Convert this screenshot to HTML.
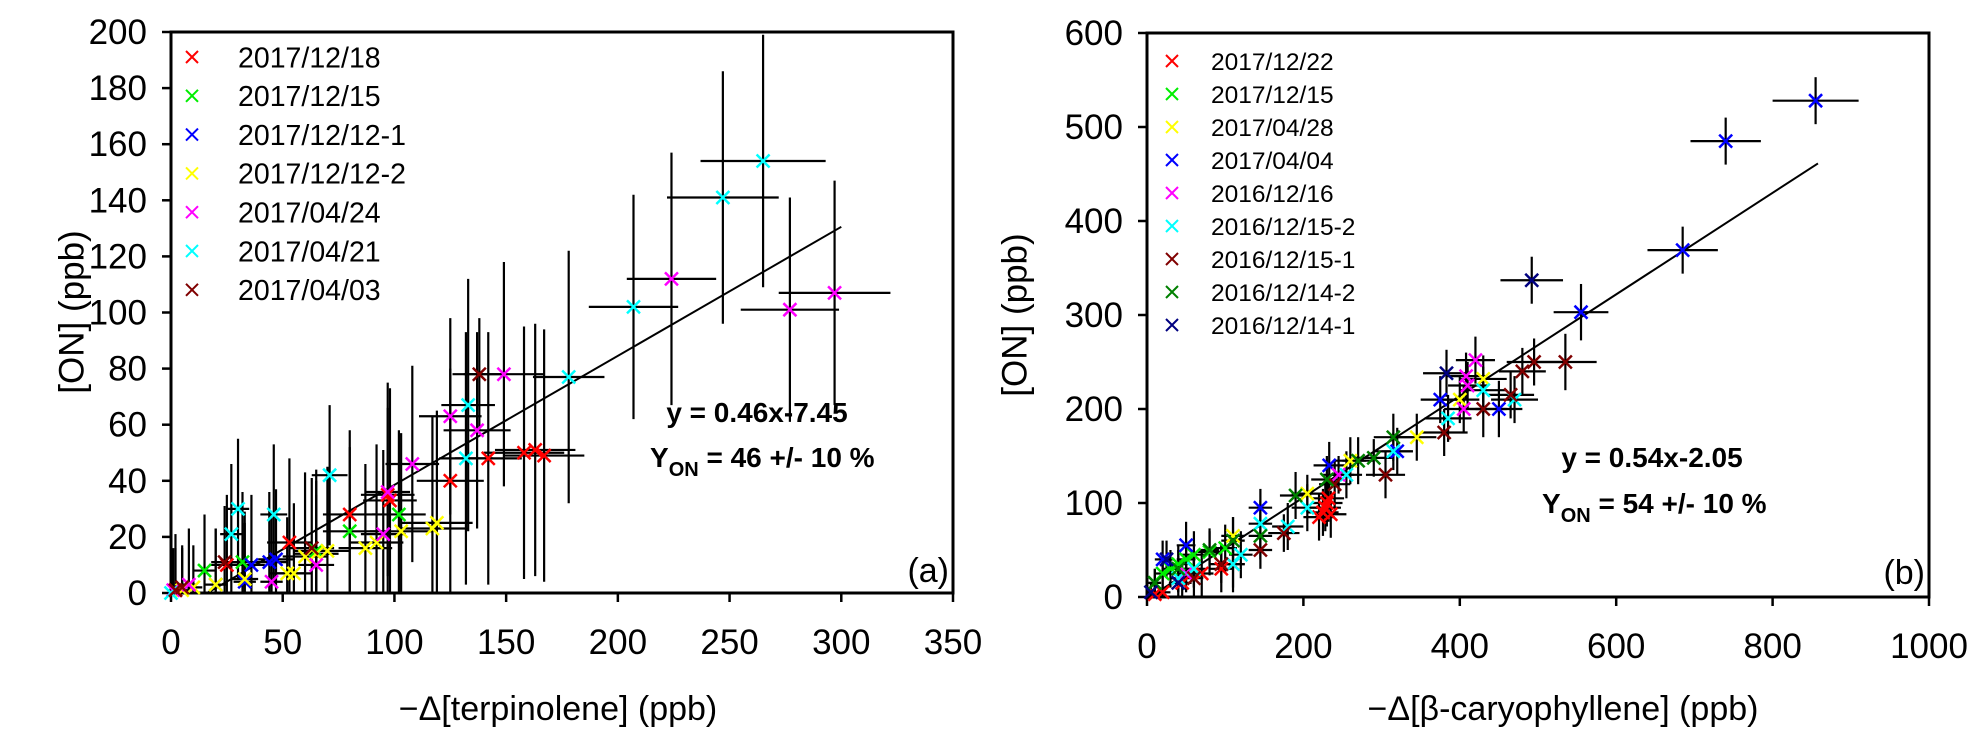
<!DOCTYPE html>
<html><head><meta charset="utf-8"><style>
html,body{margin:0;padding:0;background:#fff;}
svg{display:block;font-family:"Liberation Sans",Arial,sans-serif;}
</style></head><body>
<svg id="fig" width="1987" height="744" viewBox="0 0 1987 744" xmlns="http://www.w3.org/2000/svg">
<g id="pa"></g>
<g id="pb"></g>
</svg>
<script>
// ---------- Panel (a) data ----------
const aSeries = ["2017/12/18","2017/12/15","2017/12/12-1","2017/12/12-2","2017/04/24","2017/04/21","2017/04/03"];
const aColors = ["#ff0000","#00ee00","#0000ff","#ffff00","#ff00ff","#00ffff","#800000"];
const aX = [
 [2,25,53,80,97,98,125,142,158,163,167],
 [15,32,65,80,102],
 [20,33,36,44,47],
 [5,10,20,33,52,55,60,65,70,87,92,103,117,119],
 [1,8,45,65,95,97,108,125,137,149,224,277,297],
 [0,27,30,46,71,132,133,178,207,247,265],
 [2,5,24,63,138]
];
const aY = [
 [1,10,18,28,35,33,40,48,50,51,49],
 [8,11,15,22,28],
 [3,4,10,11,12],
 [1,2,3,5,7,7,13,14,15,16,18,22,23,25],
 [1,3,4,10,21,36,46,63,58,78,112,101,107],
 [0,21,30,28,42,48,67,77,102,141,154],
 [1,2,11,16,78]
];
const aXerr = [
 [3,8,10,12,12,12,15,15,18,18,18],
 [5,8,10,12,12],
 [5,5,6,8,8],
 [3,4,5,6,8,8,10,10,10,12,12,14,16,16],
 [2,3,5,8,10,10,12,14,15,18,20,22,25],
 [2,5,5,6,8,12,12,16,20,25,28],
 [2,3,6,10,12]
];
const aYerr = [
 [20,25,30,30,40,40,40,45,45,45,45],
 [20,25,25,30,30],
 [20,25,25,25,25],
 [15,15,20,20,20,25,30,30,30,30,35,35,40,40],
 [15,20,25,25,30,30,35,35,35,40,45,40,40],
 [15,25,25,25,25,45,45,45,40,45,45],
 [15,15,20,25,20]
];
const aTicksX = [0,50,100,150,200,250,300,350];
const aTicksY = [0,20,40,60,80,100,120,140,160,180,200];
const aFit = [0.46,-7.45];
const aFitRange = [16,300];

// ---------- Panel (b) data ----------
const bSeries = ["2017/12/22","2017/12/15","2017/04/28","2017/04/04","2016/12/16","2016/12/15-2","2016/12/15-1","2016/12/14-2","2016/12/14-1"];
const bColors = ["#ff0000","#00ee00","#ffff00","#0000ff","#ff00ff","#00ffff","#800000","#008000","#000080"];
const bX = [
 [10,20,45,70,95,110,220,225,228,230,232,235],
 [10,20,30,40,50,60,80,100],
 [60,110,205,260,345,400,430],
 [20,50,145,233,320,375,450,555,685,740,855],
 [40,50,245,405,410,408,420],
 [40,60,110,120,145,180,205,255,315,385,430,470],
 [60,95,145,175,240,305,380,430,465,480,495,535],
 [10,40,80,110,145,190,230,270,290,315],
 [5,25,40,383,492]
];
const bY = [
 [3,5,15,25,30,35,85,90,95,100,105,88],
 [15,25,30,35,40,45,48,52],
 [30,65,110,145,170,210,232],
 [40,55,95,140,155,210,200,303,369,485,528],
 [20,25,130,200,225,235,252],
 [20,30,35,45,78,75,95,130,155,190,220,210],
 [20,35,50,68,120,130,175,200,215,240,250,250],
 [15,30,50,60,65,108,125,145,148,170],
 [5,40,15,238,337]
];
const bXerr = [
 [8,10,12,15,15,15,20,20,20,20,20,20],
 [8,10,10,12,12,15,15,15],
 [15,15,20,20,25,25,30],
 [10,12,15,20,20,25,30,35,45,45,55],
 [10,10,20,25,25,25,25],
 [10,12,15,15,15,20,20,20,25,30,30,30],
 [12,15,15,20,20,25,30,30,30,30,35,40],
 [8,10,12,15,15,20,20,20,25,25],
 [8,10,12,30,40]
];
const bYerr = [
 [10,15,20,25,25,30,25,25,25,25,25,25],
 [15,15,20,20,20,25,25,25],
 [20,20,20,25,25,25,25],
 [20,25,20,25,25,25,30,30,25,25,25],
 [15,20,20,25,25,25,25],
 [15,20,25,25,25,25,25,25,20,25,25,25],
 [20,20,20,20,25,25,25,30,25,25,25,30],
 [15,20,20,25,25,25,25,25,20,25],
 [10,20,15,25,25]
];
const bTicksX = [0,200,400,600,800,1000];
const bTicksY = [0,100,200,300,400,500,600];
const bFit = [0.54,-2.05];
const bFitRange = [0,858];

const NS="http://www.w3.org/2000/svg";
function mk(parent,tag,attrs,text){
  const e=document.createElementNS(NS,tag);
  for(const k in attrs) e.setAttribute(k,attrs[k]);
  if(text!==undefined) e.textContent=text;
  parent.appendChild(e); return e;
}
function drawPanel(g,cfg){
  const sx=v=>cfg.x0+(v-cfg.xmin)/(cfg.xmax-cfg.xmin)*(cfg.x1-cfg.x0);
  const sy=v=>cfg.y0-(v-cfg.ymin)/(cfg.ymax-cfg.ymin)*(cfg.y0-cfg.y1);
  const fr=mk(g,'rect',{x:cfg.x0,y:cfg.y1,width:cfg.x1-cfg.x0,height:cfg.y0-cfg.y1,fill:'none',stroke:'#000','stroke-width':3});
  
  
  cfg.ticksX.forEach(t=>{
    const l=mk(g,'line',{x1:sx(t),x2:sx(t),y1:cfg.y0,y2:cfg.y0+9,stroke:'#000','stroke-width':2.5});
    
    
    const tx=mk(g,'text',{x:sx(t),y:cfg.y0+61,'text-anchor':'middle','font-size':35},String(t));
    
    
  });
  cfg.ticksY.forEach(t=>{
    const l=mk(g,'line',{x1:cfg.x0-9,x2:cfg.x0,y1:sy(t),y2:sy(t),stroke:'#000','stroke-width':2.5});
    
    
    const tx=mk(g,'text',{x:cfg.x0-24,y:sy(t)+12,'text-anchor':'end','font-size':35},String(t));
    
    
  });
  cfg.X.forEach((xs,si)=>{
    xs.forEach((xv,i)=>{
      const yv=cfg.Y[si][i]; if(yv===undefined) return;
      const xe=cfg.Xe[si][i]||0, ye=cfg.Ye[si][i]||0;
      const x1=sx(Math.max(cfg.xmin,xv-xe)), x2=sx(xv+xe);
      const y1=sy(Math.max(cfg.ymin,yv-ye)), y2=sy(yv+ye);
      const h=mk(g,'line',{x1:x1,x2:x2,y1:sy(yv),y2:sy(yv),stroke:'#000','stroke-width':2.2});
      
      
      const v=mk(g,'line',{x1:sx(xv),x2:sx(xv),y1:y1,y2:y2,stroke:'#000','stroke-width':2.2});
      
      
    });
  });
  const fl=mk(g,'line',{x1:sx(cfg.fitR[0]),y1:sy(cfg.fit[0]*cfg.fitR[0]+cfg.fit[1]),x2:sx(cfg.fitR[1]),y2:sy(cfg.fit[0]*cfg.fitR[1]+cfg.fit[1]),stroke:'#000','stroke-width':2});
  
  
  const cross=(px,py,c,s,w)=>mk(g,'path',{d:`M${px-s},${py-s}L${px+s},${py+s}M${px-s},${py+s}L${px+s},${py-s}`,stroke:c,'stroke-width':w,fill:'none'});
  cfg.X.forEach((xs,si)=>{
    xs.forEach((xv,i)=>{
      const yv=cfg.Y[si][i]; if(yv===undefined) return;
      const p=cross(sx(xv),sy(yv),cfg.colors[si],6.5,2.5);
      
      
    });
  });
  cfg.names.forEach((n,i)=>{
    const y=cfg.legY+i*cfg.legDy;
    const p=cross(cfg.legMx,y,cfg.colors[i],6,2);
    
    
    const t=mk(g,'text',{x:cfg.legTx,y:y+cfg.legFs*0.36,'font-size':cfg.legFs},n);
    
    
  });
}
drawPanel(document.getElementById('pa'),{x0:171,x1:953,y0:593,y1:32,xmin:0,xmax:350,ymin:0,ymax:200,
  ticksX:aTicksX,ticksY:aTicksY,X:aX,Y:aY,Xe:aXerr,Ye:aYerr,colors:aColors,names:aSeries,
  fit:aFit,fitR:aFitRange,legY:57,legDy:38.8,legMx:192,legTx:238,legFs:28.5});
drawPanel(document.getElementById('pb'),{x0:1147,x1:1929,y0:597,y1:33,xmin:0,xmax:1000,ymin:0,ymax:600,
  ticksX:bTicksX,ticksY:bTicksY,X:bX,Y:bY,Xe:bXerr,Ye:bYerr,colors:bColors,names:bSeries,
  fit:bFit,fitR:bFitRange,legY:61,legDy:33,legMx:1172,legTx:1211,legFs:24.5});
</script>
<script>
const s=document.getElementById('fig');
function T(attrs,html,name){
  const e=document.createElementNS("http://www.w3.org/2000/svg",'text');
  for(const k in attrs) e.setAttribute(k,attrs[k]);
  e.innerHTML=html;
  
  
  s.appendChild(e);
}
T({x:72,y:312,'text-anchor':'middle','font-size':35,transform:'rotate(-90 72 312)','dominant-baseline':'central'},'[ON] (ppb)','y-axis-title-a');
T({x:1015,y:315,'text-anchor':'middle','font-size':35,transform:'rotate(-90 1015 315)','dominant-baseline':'central'},'[ON] (ppb)','y-axis-title-b');
T({x:558,y:720,'text-anchor':'middle','font-size':34},'−Δ[terpinolene] (ppb)','x-axis-title-a');
T({x:1563,y:720,'text-anchor':'middle','font-size':34},'−Δ[β-caryophyllene] (ppb)','x-axis-title-b');
T({x:757,y:422,'text-anchor':'middle','font-size':28,'font-weight':'bold'},'y = 0.46x-7.45','fit-equation-a');
T({x:650,y:467,'font-size':28,'font-weight':'bold'},'Y<tspan font-size="20" dy="9">ON</tspan><tspan dy="-9"> = 46 +/- 10 %</tspan>','yield-label-a');
T({x:1652,y:467,'text-anchor':'middle','font-size':28,'font-weight':'bold'},'y = 0.54x-2.05','fit-equation-b');
T({x:1542,y:513,'font-size':28,'font-weight':'bold'},'Y<tspan font-size="20" dy="9">ON</tspan><tspan dy="-9"> = 54 +/- 10 %</tspan>','yield-label-b');
T({x:949,y:582,'text-anchor':'end','font-size':34},'(a)','panel-label-a');
T({x:1925,y:584,'text-anchor':'end','font-size':34},'(b)','panel-label-b');
</script>
</body></html>
